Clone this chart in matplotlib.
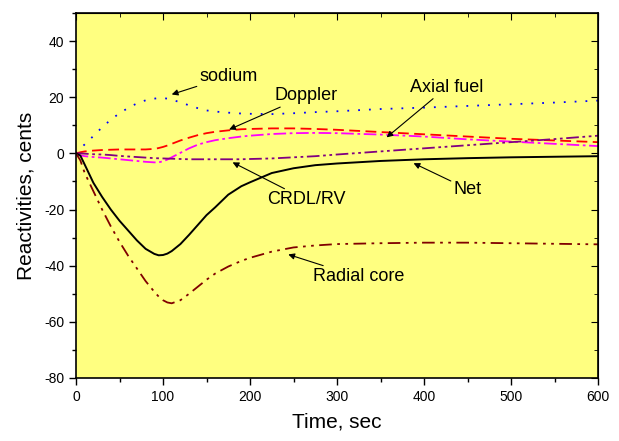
import numpy as np
import matplotlib.pyplot as plt
from matplotlib.ticker import MultipleLocator

plt.rcParams['font.family'] = ['Liberation Sans', 'DejaVu Sans']
plt.rcParams['axes.unicode_minus'] = False

t = [0, 5, 10, 20, 30, 40, 50, 60, 70, 80, 90, 95, 100, 105, 110, 120, 130,
     140, 150, 160, 175, 190, 200, 225, 250, 275, 300, 350, 400, 450, 500,
     550, 600]

net = [0, -0.8, -4, -10.5, -15.5, -20, -24, -27.5, -31, -34, -35.8, -36.3,
       -36.2, -35.7, -34.8, -32.3, -29, -25.5, -22, -19.2, -14.7, -11.7,
       -10.3, -7, -5.3, -4.2, -3.6, -2.7, -2.1, -1.7, -1.4, -1.2, -1.0]
radial = [0, -2.5, -7, -13.5, -20, -26, -31.5, -36.5, -41, -45.5, -49.3,
          -51, -52.3, -53.1, -53.4, -52.3, -50, -47.5, -45, -42.8, -40.3,
          -38.3, -37.2, -35, -33.5, -32.8, -32.3, -32, -31.8, -31.8, -32,
          -32.2, -32.4]
sodium = [0, 1.8, 3.2, 6.2, 9.3, 12, 14.3, 16.2, 17.8, 18.9, 19.5, 19.7, 19.7,
          19.5, 19.1, 18.2, 17.1, 16.1, 15.3, 14.9, 14.5, 14.2, 14.1, 14.0,
          14.3, 14.7, 15.0, 15.8, 16.3, 16.9, 17.5, 18.1, 18.8]
doppler = [0, 0.4, 0.7, 1.0, 1.2, 1.3, 1.4, 1.4, 1.4, 1.4, 1.6, 1.9, 2.3, 2.8,
           3.4, 4.6, 5.6, 6.5, 7.2, 7.7, 8.2, 8.6, 8.7, 8.9, 8.9, 8.7, 8.4,
           7.6, 6.8, 6.0, 5.2, 4.6, 4.0]
axial = [0, -0.7, -1.0, -1.3, -1.5, -1.8, -2.1, -2.4, -2.7, -3.0, -3.2, -3.2,
         -2.8, -2.2, -1.4, 0.2, 1.8, 3.1, 4.0, 4.7, 5.4, 6.0, 6.3, 6.9, 7.2,
         7.3, 7.2, 6.7, 6.0, 5.0, 4.2, 3.4, 2.6]
crdl = [0, 0, -0.1, -0.3, -0.4, -0.6, -0.9, -1.1, -1.3, -1.5, -1.7, -1.75,
        -1.8, -1.85, -1.9, -2.0, -2.1, -2.1, -2.1, -2.1, -2.1, -2.1, -2.0,
        -1.8, -1.4, -1.0, -0.4, 0.7, 1.8, 2.9, 4.0, 5.1, 6.3]

fig = plt.figure(figsize=(6.19, 4.41), dpi=100)
ax = fig.add_axes([0.1228, 0.1429, 0.8433, 0.8276])
ax.set_facecolor('#ffff80')

ax.plot(t, sodium, color='#0000ff', lw=1.3, linestyle=(0, (1, 5)))
ax.plot(t, doppler, color='#ff0000', lw=1.3, linestyle=(0, (6, 3)))
ax.plot(t, axial, color='#ff00ff', lw=1.3, linestyle=(0, (7, 2, 1.5, 2)))
ax.plot(t, crdl, color='#800080', lw=1.3, linestyle=(0, (7, 2, 1.5, 2, 1.5, 2)))
ax.plot(t, net, color='black', lw=1.4)
ax.plot(t, radial, color='#800000', lw=1.3, linestyle=(0, (7, 3, 1.5, 3, 1.5, 3)))

ax.set_xlim(0, 600)
ax.set_ylim(-80, 50)
ax.xaxis.set_major_locator(MultipleLocator(100))
ax.xaxis.set_minor_locator(MultipleLocator(50))
ax.set_yticks([-80, -60, -40, -20, 0, 20, 40])
ax.yaxis.set_minor_locator(MultipleLocator(10))
ax.tick_params(which='both', direction='out', top=False, right=False, labelsize=10)
ax.tick_params(which='major', length=5, width=1)
ax.tick_params(which='minor', length=3, width=1)
for s in ax.spines.values():
    s.set_linewidth(1.2)

# inward ticks on the top and right edges
axt = ax.secondary_xaxis('top')
axt.set_xticks(np.arange(0, 601, 100))
axt.xaxis.set_minor_locator(MultipleLocator(50))
axt.tick_params(which='both', direction='in', labeltop=False)
axt.tick_params(which='major', length=5)
axt.tick_params(which='minor', length=3)
axr = ax.secondary_yaxis('right')
axr.set_yticks([-80, -60, -40, -20, 0, 20, 40])
axr.yaxis.set_minor_locator(MultipleLocator(10))
axr.tick_params(which='both', direction='in', labelright=False)
axr.tick_params(which='major', length=5)
axr.tick_params(which='minor', length=3)

ax.set_xlabel('Time, sec', fontsize=15, labelpad=6)
ax.set_ylabel('Reactivities, cents', fontsize=15, labelpad=6)

arrow = dict(arrowstyle='-|>', color='black', lw=0.8, mutation_scale=9,
             shrinkA=0, shrinkB=0)
fs = 13
ax.annotate('sodium', xy=(110, 21), xytext=(142, 27.5), fontsize=fs,
            va='center', ha='left', arrowprops=arrow)
ax.annotate('Doppler', xy=(176, 8.5), xytext=(228, 20.5), fontsize=fs,
            va='center', ha='left', arrowprops=arrow)
ax.annotate('Axial fuel', xy=(357, 5.7), xytext=(426, 23.5), fontsize=fs,
            va='center', ha='center', arrowprops=arrow)
ax.annotate('Net', xy=(388, -3.5), xytext=(434, -12.7), fontsize=fs,
            va='center', ha='left', arrowprops=arrow)
ax.annotate('CRDL/RV', xy=(180, -3.2), xytext=(220, -16.6), fontsize=fs,
            va='center', ha='left', arrowprops=arrow)
ax.annotate('Radial core', xy=(244, -36), xytext=(272, -44), fontsize=fs,
            va='center', ha='left', arrowprops=arrow)

fig.savefig('out.png', dpi=100)
